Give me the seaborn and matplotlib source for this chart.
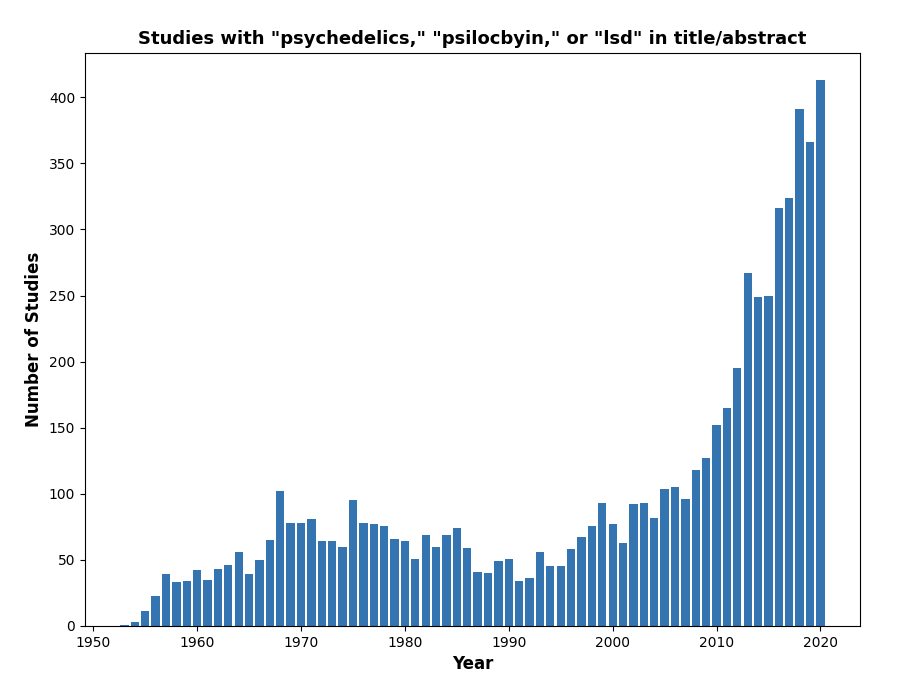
import matplotlib
matplotlib.use("Agg")
import matplotlib.pyplot as plt
import seaborn as sns
import pandas as pd

years = list(range(1953, 2021))
studies = [
    1, 3, 11, 23, 39, 33, 34, 42, 35, 43, 46, 56, 39, 50, 65, 102, 78, 78, 81, 64,
    64, 60, 95, 78, 77, 76, 66, 64, 51, 69, 60, 69, 74, 59, 41, 40, 49, 51, 34, 36,
    56, 45, 45, 58, 67, 76, 93, 77, 63, 92, 93, 82, 104, 105, 96, 118, 127, 152, 165, 195,
    267, 249, 250, 316, 324, 391, 366, 413,
]

df = pd.DataFrame({"Year": years, "Studies": studies})

fig = plt.figure(figsize=(8.99, 6.86), dpi=100)
ax = fig.add_axes([0.0945, 0.0875, 0.862, 0.8355])
sns.barplot(data=df, x="Year", y="Studies", native_scale=True, color="#3474b1",
            saturation=1, width=0.8, ax=ax, errorbar=None)
ax.set_xlim(1949.2, 2023.8)
ax.set_ylim(0, 433.65)
ax.set_xticks([1950, 1960, 1970, 1980, 1990, 2000, 2010, 2020])
ax.set_yticks([0, 50, 100, 150, 200, 250, 300, 350, 400])
ax.set_title('Studies with "psychedelics," "psilocbyin," or "lsd" in title/abstract',
             fontsize=13, fontweight="bold")
ax.set_xlabel("Year", fontsize=12, fontweight="bold")
ax.set_ylabel("Number of Studies", fontsize=12, fontweight="bold")
fig.savefig("out.png", dpi=100)
